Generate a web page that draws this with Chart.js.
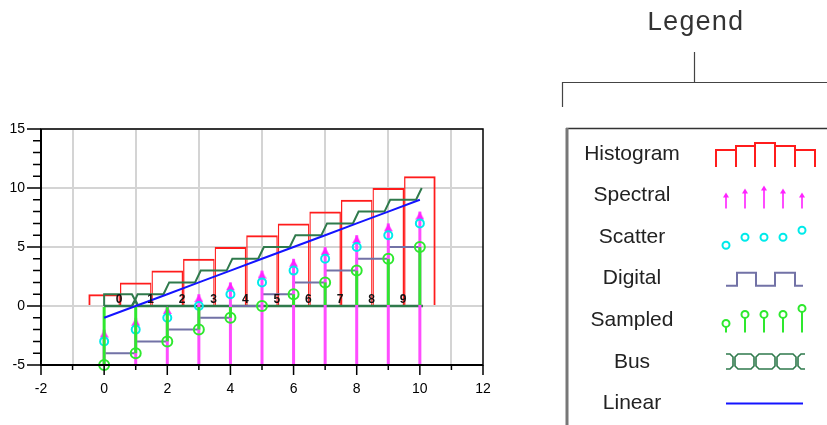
<!DOCTYPE html>
<html>
<head>
<meta charset="utf-8">
<script src="https://cdn.jsdelivr.net/npm/chart.js@4.4.1/dist/chart.umd.min.js"></script>
<style>
  html, body { margin: 0; padding: 0; background: #fff; }
  #wrap { position: absolute; left: 0; top: 0; width: 827px; height: 425px; }
</style>
</head>
<body>
<div id="wrap"><canvas id="myChart" width="827" height="425"></canvas></div>
<script>
// values
const xValues = [0, 1, 2, 3, 4, 5, 6, 7, 8, 9, 10];
const histogramValues = [1, 2, 3, 4, 5, 6, 7, 8, 9, 10, 11];
const spectralValues = [-2, -1, 0, 1, 2, 3, 4, 5, 6, 7, 8];
const spectralFloor = -5;
const scatterValues = [-3, -2, -1, 0, 1, 2, 3, 4, 5, 6, 7];
const digitalValues = [-4, -3, -2, -1, 0, 1, 2, 3, 4, 5, 5];
const sampledValues = [-5, -4, -3, -2, -1, 0, 1, 2, 3, 4, 5];
const busLevels = [1, 1, 2, 3, 4, 5, 6, 7, 8, 9, 10];
const busLabels = ["0", "1", "2", "3", "4", "5", "6", "7", "8", "9"];
const linearValues = [-1, 0, 1, 2, 3, 4, 5, 6, 7, 8, 9];

const xTicks = [-2, 0, 2, 4, 6, 8, 10, 12];
const yTicks = [-5, 0, 5, 10, 15];
const legendNames = ["Histogram", "Spectral", "Scatter", "Digital", "Sampled", "Bus", "Linear"];

const colors = {
  histogram: "#ff1c1c",
  spectral: "#ff4cff",
  scatter: "#00eaea",
  digital: "#7272a6",
  sampled: "#2ee82e",
  bus: "#2f7a4c",
  linear: "#1414ff",
};

const pts = (vals) => vals.map((v, i) => ({ x: xValues[i], y: v }));

// bus outline: upper edge follows the levels with slanted steps,
// a crossing where the level stays the same
const busTop = [{ x: xValues[0], y: 0 }, { x: xValues[0], y: busLevels[0] }];
const busBottom = [{ x: xValues[0], y: 0 }];
for (let i = 1; i < busLevels.length; i++) {
  const a = busLevels[i - 1];
  const b = busLevels[i];
  const xi = xValues[i];
  busTop.push({ x: xi - 0.12, y: a });
  if (a === b) {
    busTop.push({ x: xi - 0.02, y: a / 2 });
    busBottom.push({ x: xi - 0.12, y: 0 }, { x: xi - 0.02, y: a / 2 }, { x: xi + 0.08, y: 0 });
  }
  busTop.push({ x: xi + 0.06, y: b });
}
busBottom.push({ x: xValues[xValues.length - 1] + 0.1, y: 0 });

// arrow head image: tip sits at the point centre
const arrowImg = document.createElement("canvas");
arrowImg.width = 9;
arrowImg.height = 18;
(function () {
  const a = arrowImg.getContext("2d");
  a.fillStyle = "#ff22ff";
  a.beginPath();
  a.moveTo(4.5, 9);
  a.lineTo(8.8, 17);
  a.lineTo(0.2, 17);
  a.closePath();
  a.fill();
})();

const lastIdx = histogramValues.length - 1;

function busIcon(ctx, y0) {
  const hi = y0 - 6;
  const lo = y0 + 9;
  const joints = [734, 755, 776, 797];
  const c = 3;
  ctx.strokeStyle = colors.bus;
  ctx.lineWidth = 1.6;
  ctx.beginPath();
  // left partial cell, open on the left
  ctx.moveTo(726, hi);
  ctx.lineTo(joints[0] - 1 - c, hi);
  ctx.lineTo(joints[0] - 1, hi + c);
  ctx.lineTo(joints[0] - 1, lo - c);
  ctx.lineTo(joints[0] - 1 - c, lo);
  ctx.lineTo(726, lo);
  // full cells
  for (let k = 0; k < joints.length - 1; k++) {
    const l = joints[k] + 1;
    const r = joints[k + 1] - 1;
    ctx.moveTo(l + c, hi);
    ctx.lineTo(r - c, hi);
    ctx.lineTo(r, hi + c);
    ctx.lineTo(r, lo - c);
    ctx.lineTo(r - c, lo);
    ctx.lineTo(l + c, lo);
    ctx.lineTo(l, lo - c);
    ctx.lineTo(l, hi + c);
    ctx.closePath();
  }
  // right partial cell, open on the right
  const j = joints[joints.length - 1] + 1;
  ctx.moveTo(805, hi);
  ctx.lineTo(j + c, hi);
  ctx.lineTo(j, hi + c);
  ctx.lineTo(j, lo - c);
  ctx.lineTo(j + c, lo);
  ctx.lineTo(805, lo);
  ctx.stroke();
}

const decor = {
  id: "decor",
  afterDatasetsDraw(chart) {
    const { ctx, chartArea: a, scales: { x, y } } = chart;
    ctx.save();

    // bus value labels
    ctx.font = 'bold 12px "Liberation Sans", Arial, sans-serif';
    ctx.fillStyle = "#111";
    ctx.textAlign = "center";
    ctx.textBaseline = "alphabetic";
    busLabels.forEach((t, i) => {
      ctx.fillText(t, x.getPixelForValue(xValues[i] + 0.47), y.getPixelForValue(0) - 3);
    });

    // frame
    ctx.strokeStyle = "#000";
    ctx.lineWidth = 1.5;
    ctx.strokeRect(a.left, a.top, a.right - a.left, a.bottom - a.top);
    ctx.lineWidth = 2;
    ctx.beginPath();
    ctx.moveTo(a.left, a.top);
    ctx.lineTo(a.left, a.bottom);
    ctx.lineTo(a.right, a.bottom);
    ctx.stroke();

    // major and minor tick marks
    ctx.lineWidth = 1.5;
    ctx.beginPath();
    xTicks.forEach((v, i) => {
      const px = x.getPixelForValue(v);
      ctx.moveTo(px, a.bottom);
      ctx.lineTo(px, a.bottom + 10);
      if (i < xTicks.length - 1) {
        const step = (xTicks[i + 1] - v) / 2;
        const mx = x.getPixelForValue(v + step);
        ctx.moveTo(mx, a.bottom);
        ctx.lineTo(mx, a.bottom + 5);
      }
    });
    yTicks.forEach((v, i) => {
      const py = y.getPixelForValue(v);
      ctx.moveTo(a.left - 14, py);
      ctx.lineTo(a.left, py);
      if (i < yTicks.length - 1) {
        const step = (yTicks[i + 1] - v) / 5;
        for (let k = 1; k < 5; k++) {
          const my = y.getPixelForValue(v + k * step);
          ctx.moveTo(a.left - 8, my);
          ctx.lineTo(a.left, my);
        }
      }
    });
    ctx.stroke();
    ctx.restore();
  },
  afterDraw(chart) {
    const ctx = chart.ctx;
    ctx.save();

    // title and bracket
    ctx.fillStyle = "#333";
    ctx.font = '27px "Liberation Mono", "Courier New", monospace';
    ctx.textAlign = "center";
    ctx.textBaseline = "alphabetic";
    ctx.fillText("Legend", 695, 30);

    ctx.strokeStyle = "#444";
    ctx.lineWidth = 1.2;
    ctx.beginPath();
    ctx.moveTo(694.5, 52);
    ctx.lineTo(694.5, 82);
    ctx.moveTo(562.5, 107);
    ctx.lineTo(562.5, 82.5);
    ctx.lineTo(827, 82.5);
    ctx.stroke();

    // legend box
    ctx.strokeStyle = "#333";
    ctx.lineWidth = 1.5;
    ctx.beginPath();
    ctx.moveTo(566, 128.5);
    ctx.lineTo(827, 128.5);
    ctx.stroke();
    ctx.strokeStyle = "#777";
    ctx.lineWidth = 3;
    ctx.beginPath();
    ctx.moveTo(567, 128);
    ctx.lineTo(567, 425);
    ctx.stroke();

    ctx.font = '21px "Liberation Sans", Arial, sans-serif';
    ctx.textAlign = "center";
    ctx.textBaseline = "alphabetic";
    const xs = [726, 745, 764, 783, 802];
    legendNames.forEach((name, k) => {
      const y0 = 152 + k * 41.6;
      ctx.fillStyle = "#222";
      ctx.fillText(name, 632, y0 + 7.5);
      ctx.lineWidth = 2;
      if (name === "Histogram") {
        const edges = [716, 736, 755, 775, 795, 815];
        const tops = [-2, -6, -9, -6, -2];
        ctx.strokeStyle = colors.histogram;
        ctx.beginPath();
        tops.forEach((t, i) => {
          ctx.moveTo(edges[i], y0 + 15);
          ctx.lineTo(edges[i], y0 + t);
          ctx.lineTo(edges[i + 1], y0 + t);
          ctx.lineTo(edges[i + 1], y0 + 15);
        });
        ctx.stroke();
      } else if (name === "Spectral") {
        const tops = [-1, -5, -8, -5, -1];
        ctx.strokeStyle = colors.spectral;
        ctx.fillStyle = "#ff22ff";
        xs.forEach((px, i) => {
          ctx.beginPath();
          ctx.moveTo(px, y0 + 15);
          ctx.lineTo(px, y0 + tops[i] + 3);
          ctx.stroke();
          ctx.beginPath();
          ctx.moveTo(px, y0 + tops[i]);
          ctx.lineTo(px + 3, y0 + tops[i] + 5);
          ctx.lineTo(px - 3, y0 + tops[i] + 5);
          ctx.closePath();
          ctx.fill();
        });
      } else if (name === "Scatter") {
        const ys = [10, 2, 2, 2, -5];
        ctx.strokeStyle = colors.scatter;
        xs.forEach((px, i) => {
          ctx.beginPath();
          ctx.arc(px, y0 + ys[i], 3.5, 0, Math.PI * 2);
          ctx.stroke();
        });
      } else if (name === "Digital") {
        ctx.strokeStyle = colors.digital;
        ctx.beginPath();
        ctx.moveTo(726, y0 + 9);
        ctx.lineTo(737, y0 + 9);
        ctx.lineTo(737, y0 - 4);
        ctx.lineTo(756, y0 - 4);
        ctx.lineTo(756, y0 + 9);
        ctx.lineTo(775, y0 + 9);
        ctx.lineTo(775, y0 - 4);
        ctx.lineTo(795, y0 - 4);
        ctx.lineTo(795, y0 + 9);
        ctx.lineTo(803, y0 + 9);
        ctx.stroke();
      } else if (name === "Sampled") {
        const ys = [5, -4, -4, -4, -10];
        ctx.strokeStyle = colors.sampled;
        xs.forEach((px, i) => {
          ctx.beginPath();
          ctx.moveTo(px, y0 + 14);
          ctx.lineTo(px, y0 + ys[i] + 3.5);
          ctx.stroke();
          ctx.beginPath();
          ctx.arc(px, y0 + ys[i], 3.5, 0, Math.PI * 2);
          ctx.stroke();
        });
      } else if (name === "Bus") {
        busIcon(ctx, y0);
      } else if (name === "Linear") {
        ctx.strokeStyle = colors.linear;
        ctx.beginPath();
        ctx.moveTo(726, y0 + 2);
        ctx.lineTo(803, y0 + 2);
        ctx.stroke();
      }
    });
    ctx.restore();
  },
};

const tickFont = { size: 14, family: '"Liberation Sans", Arial, sans-serif' };

const ctx = document.getElementById("myChart");
const chart = new Chart(ctx, {
  type: "scatter",
  data: {
    datasets: [
      {
        type: "line",
        label: "Linear",
        data: pts(linearValues),
        borderColor: colors.linear,
        borderWidth: 2,
        pointRadius: 0,
        order: 1,
      },
      {
        type: "scatter",
        label: "Sampled",
        data: pts(sampledValues),
        borderColor: colors.sampled,
        backgroundColor: "transparent",
        pointRadius: 5,
        pointBorderWidth: 2,
        clip: false,
        order: 2,
      },
      {
        type: "bar",
        label: "Sampled stems",
        data: pts(sampledValues),
        backgroundColor: colors.sampled,
        barThickness: 3,
        grouped: false,
        inflateAmount: 0,
        order: 3,
      },
      {
        type: "scatter",
        label: "Scatter",
        data: pts(scatterValues),
        borderColor: colors.scatter,
        backgroundColor: "transparent",
        pointRadius: 4,
        pointBorderWidth: 2,
        clip: false,
        order: 4,
      },
      {
        type: "scatter",
        label: "Spectral heads",
        data: pts(spectralValues),
        pointStyle: arrowImg,
        clip: false,
        order: 5,
      },
      {
        type: "bar",
        label: "Spectral",
        data: spectralValues.map((v, i) => ({ x: xValues[i], y: [spectralFloor, v] })),
        backgroundColor: colors.spectral,
        barThickness: 3,
        grouped: false,
        inflateAmount: 0,
        order: 6,
      },
      {
        type: "line",
        label: "Digital",
        data: pts(digitalValues),
        borderColor: colors.digital,
        borderWidth: 2,
        stepped: "before",
        pointRadius: 0,
        order: 7,
      },
      {
        type: "line",
        label: "Bus",
        data: busTop,
        borderColor: colors.bus,
        borderWidth: 2,
        pointRadius: 0,
        order: 8,
      },
      {
        type: "line",
        label: "Bus low",
        data: busBottom,
        borderColor: colors.bus,
        borderWidth: 2.5,
        pointRadius: 0,
        order: 8,
      },
      {
        type: "bar",
        label: "Histogram",
        data: pts(histogramValues),
        borderColor: colors.histogram,
        backgroundColor: "transparent",
        borderWidth: (c) => ({
          top: 2,
          left: c.dataIndex === 0 ? 2 : 1.3,
          right: c.dataIndex === lastIdx ? 2 : 1.3,
          bottom: 0,
        }),
        barPercentage: 1,
        categoryPercentage: 1,
        grouped: false,
        inflateAmount: 0,
        order: 9,
      },
    ],
  },
  options: {
    responsive: false,
    animation: false,
    events: [],
    layout: {
      padding: { left: 0, top: 129, right: 344, bottom: 0 },
    },
    plugins: {
      legend: { display: false },
      tooltip: { enabled: false },
    },
    scales: {
      x: {
        type: "linear",
        min: -2,
        max: 12,
        offset: false,
        afterBuildTicks: (s) => {
          s.ticks = xTicks.map((v) => ({ value: v }));
        },
        afterFit: (s) => {
          s.height = 60;
        },
        grid: { color: "#d4d4d4", lineWidth: 2, drawTicks: false },
        border: { display: false },
        ticks: { padding: 16, font: tickFont, color: "#000", autoSkip: false, maxRotation: 0 },
      },
      y: {
        type: "linear",
        min: -5,
        max: 15,
        afterBuildTicks: (s) => {
          s.ticks = yTicks.map((v) => ({ value: v }));
        },
        afterFit: (s) => {
          s.width = 41;
        },
        grid: { color: "#d4d4d4", lineWidth: 2, drawTicks: false },
        border: { display: false },
        ticks: { padding: 16, font: tickFont, color: "#000" },
      },
    },
  },
  plugins: [decor],
});
</script>
</body>
</html>
